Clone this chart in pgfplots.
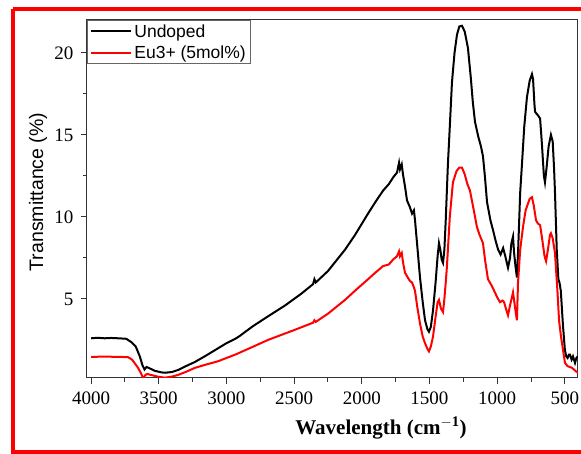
\documentclass[border=0pt]{standalone}
\usepackage{fontspec}
\setmainfont{Liberation Serif}
\newfontfamily\arial{Liberation Sans}
\newfontfamily\tnr{Liberation Serif}
\usepackage{pgfplots}
\pgfplotsset{compat=1.18}
\begin{document}
\begin{tikzpicture}[x=1pt,y=1pt]
\useasboundingbox (0,0) rectangle (581,454);
\draw[red, line width=4pt] (13,444.5) -- (13,1.8) -- (620,1.8);
\draw[red, line width=4pt] (13,444.5) -- (620,444.5);
\begin{axis}[
  at={(87pt,76pt)}, anchor=south west,
  scale only axis, width=491pt, height=358pt,
  x dir=reverse, xmin=403, xmax=4030, ymin=0.18, ymax=22.0,
  xtick={4000,3500,3000,2500,2000,1500,1000,500},
  xticklabels={{\tnr 4000},{\tnr 3500},{\tnr 3000},{\tnr 2500},{\tnr 2000},{\tnr 1500},{\tnr 1000},{\tnr 500}},
  ytick={5,10,15,20},
  yticklabels={{\tnr 5},{\tnr 10},{\tnr 15},{\tnr 20}},
  minor x tick num=1, minor y tick num=1,
  tick align=outside, xtick pos=bottom, ytick pos=left,
  major tick length=6pt, minor tick length=4pt,
  axis line style={black!80, line width=1pt},
  every tick/.style={black!80, line width=1pt},
  tick label style={font=\tnr\fontsize{19}{19}\selectfont},
  xticklabel style={yshift=-4pt},
  yticklabel style={xshift=-4pt},
  legend style={at={(0,1)}, anchor=north west, draw=black!60, line width=0.8pt,
     font=\arial\fontsize{17.5}{17.5}\selectfont, inner xsep=3pt, inner ysep=2pt,
     row sep=3pt, legend cell align=left},
  legend image code/.code={\draw[#1, line width=2pt] (0pt,0pt) -- (40pt,0pt);},
  clip=true,
]
\addplot[black, line width=2pt] coordinates {
(4000,2.6)(3950,2.63)(3900,2.6)(3850,2.62)(3800,2.6)(3740,2.57)(3700,2.35)(3670,2.1)(3640,1.5)(3620,0.95)(3605,0.7)(3590,0.85)(3570,0.78)(3530,0.62)(3480,0.52)(3450,0.5)(3400,0.55)(3357,0.67)(3300,0.9)(3232,1.16)(3150,1.55)(3106,1.77)(3000,2.3)(2936,2.56)(2900,2.75)(2811,3.3)(2700,3.9)(2567,4.6)(2450,5.3)(2360,5.9)(2350,6.2)(2340,6.0)(2250,6.7)(2124,8.0)(2050,8.9)(1954,10.2)(1900,10.9)(1843,11.6)(1800,12.0)(1769,12.4)(1740,12.7)(1725,13.3)(1718,12.9)(1705,13.2)(1696,12.6)(1680,11.8)(1666,11.0)(1645,10.6)(1629,10.2)(1615,10.4)(1607,9.8)(1590,8.2)(1570,6.3)(1550,4.8)(1533,3.7)(1515,3.15)(1504,3.0)(1490,3.3)(1474,4.3)(1455,6.0)(1440,7.6)(1430,8.4)(1420,8.0)(1410,7.4)(1400,7.2)(1390,8.0)(1380,9.8)(1364,13.2)(1350,15.5)(1334,18.2)(1315,20.0)(1297,21.1)(1280,21.6)(1260,21.65)(1240,21.3)(1216,20.3)(1195,18.5)(1180,17.0)(1164,15.8)(1140,14.9)(1120,14.3)(1105,13.7)(1090,12.4)(1075,10.9)(1050,9.8)(1031,9.2)(1010,8.5)(993,8.0)(975,7.7)(956,8.1)(940,7.6)(920,6.9)(905,7.5)(895,8.4)(883,8.8)(875,7.8)(865,7.0)(854,6.3)(845,8.0)(830,11.5)(817,13.2)(800,15.5)(780,17.3)(760,18.3)(743,18.7)(735,18.4)(725,16.9)(720,16.4)(700,16.2)(683,16.0)(670,14.5)(655,12.5)(647,12.1)(635,13.0)(620,14.3)(603,15.0)(590,14.6)(580,13.0)(573,11.5)(560,8.0)(548,6.2)(540,6.0)(530,5.5)(515,3.5)(500,1.9)(490,1.5)(480,1.4)(470,1.6)(462,1.6)(450,1.3)(440,1.5)(425,1.1)(415,1.4)(403,1.5)
};
\addlegendentry{Undoped}
\addplot[red, line width=2pt] coordinates {
(4000,1.47)(3900,1.48)(3800,1.47)(3727,1.45)(3697,1.3)(3670,1.0)(3653,0.8)(3630,0.45)(3615,0.15)(3600,0.35)(3586,0.43)(3550,0.35)(3500,0.25)(3453,0.2)(3400,0.27)(3357,0.37)(3300,0.55)(3232,0.8)(3150,1.0)(3062,1.2)(3000,1.4)(2936,1.6)(2800,2.1)(2693,2.5)(2500,3.1)(2360,3.55)(2350,3.7)(2340,3.6)(2250,4.1)(2124,4.94)(2050,5.5)(1954,6.2)(1900,6.6)(1843,7.0)(1800,7.1)(1769,7.4)(1740,7.6)(1725,7.9)(1718,7.6)(1705,7.8)(1695,7.2)(1681,6.6)(1660,6.3)(1645,6.1)(1629,6.0)(1615,5.7)(1607,5.5)(1590,4.5)(1570,3.5)(1550,2.7)(1533,2.3)(1515,1.95)(1504,1.8)(1490,2.1)(1474,2.7)(1455,3.9)(1440,4.8)(1430,4.94)(1415,4.4)(1400,4.2)(1390,5.0)(1380,6.0)(1371,7.0)(1350,10.0)(1327,12.1)(1300,12.8)(1280,13.0)(1260,13.0)(1240,12.6)(1220,12.0)(1201,11.6)(1175,10.5)(1150,9.4)(1130,8.9)(1105,8.4)(1090,7.4)(1068,6.2)(1040,5.8)(1017,5.4)(1000,5.1)(979,4.8)(960,4.9)(949,4.8)(935,4.4)(920,4.0)(905,4.6)(883,5.4)(870,4.6)(860,4.0)(854,3.7)(846,6.0)(830,8.0)(809,9.4)(790,10.4)(760,11.1)(743,11.2)(730,10.7)(713,9.8)(700,9.6)(683,9.5)(665,8.5)(650,7.6)(639,7.3)(625,8.0)(610,8.9)(603,9.0)(590,8.7)(573,7.8)(555,5.5)(543,3.7)(530,2.8)(514,1.9)(499,1.1)(480,0.9)(447,0.8)(420,0.6)(403,0.5)
};
\addlegendentry{Eu3+ (5mol\%)}
\end{axis}
\node[rotate=90, font=\arial\fontsize{19.5}{19.5}\selectfont] at (38,262) {Transmittance (\%)};
\node[font=\tnr\bfseries\fontsize{21}{21}\selectfont] at (381,26) {Wavelength (cm$^{\mathbf{-1}}$)};
\end{tikzpicture}
\end{document}
